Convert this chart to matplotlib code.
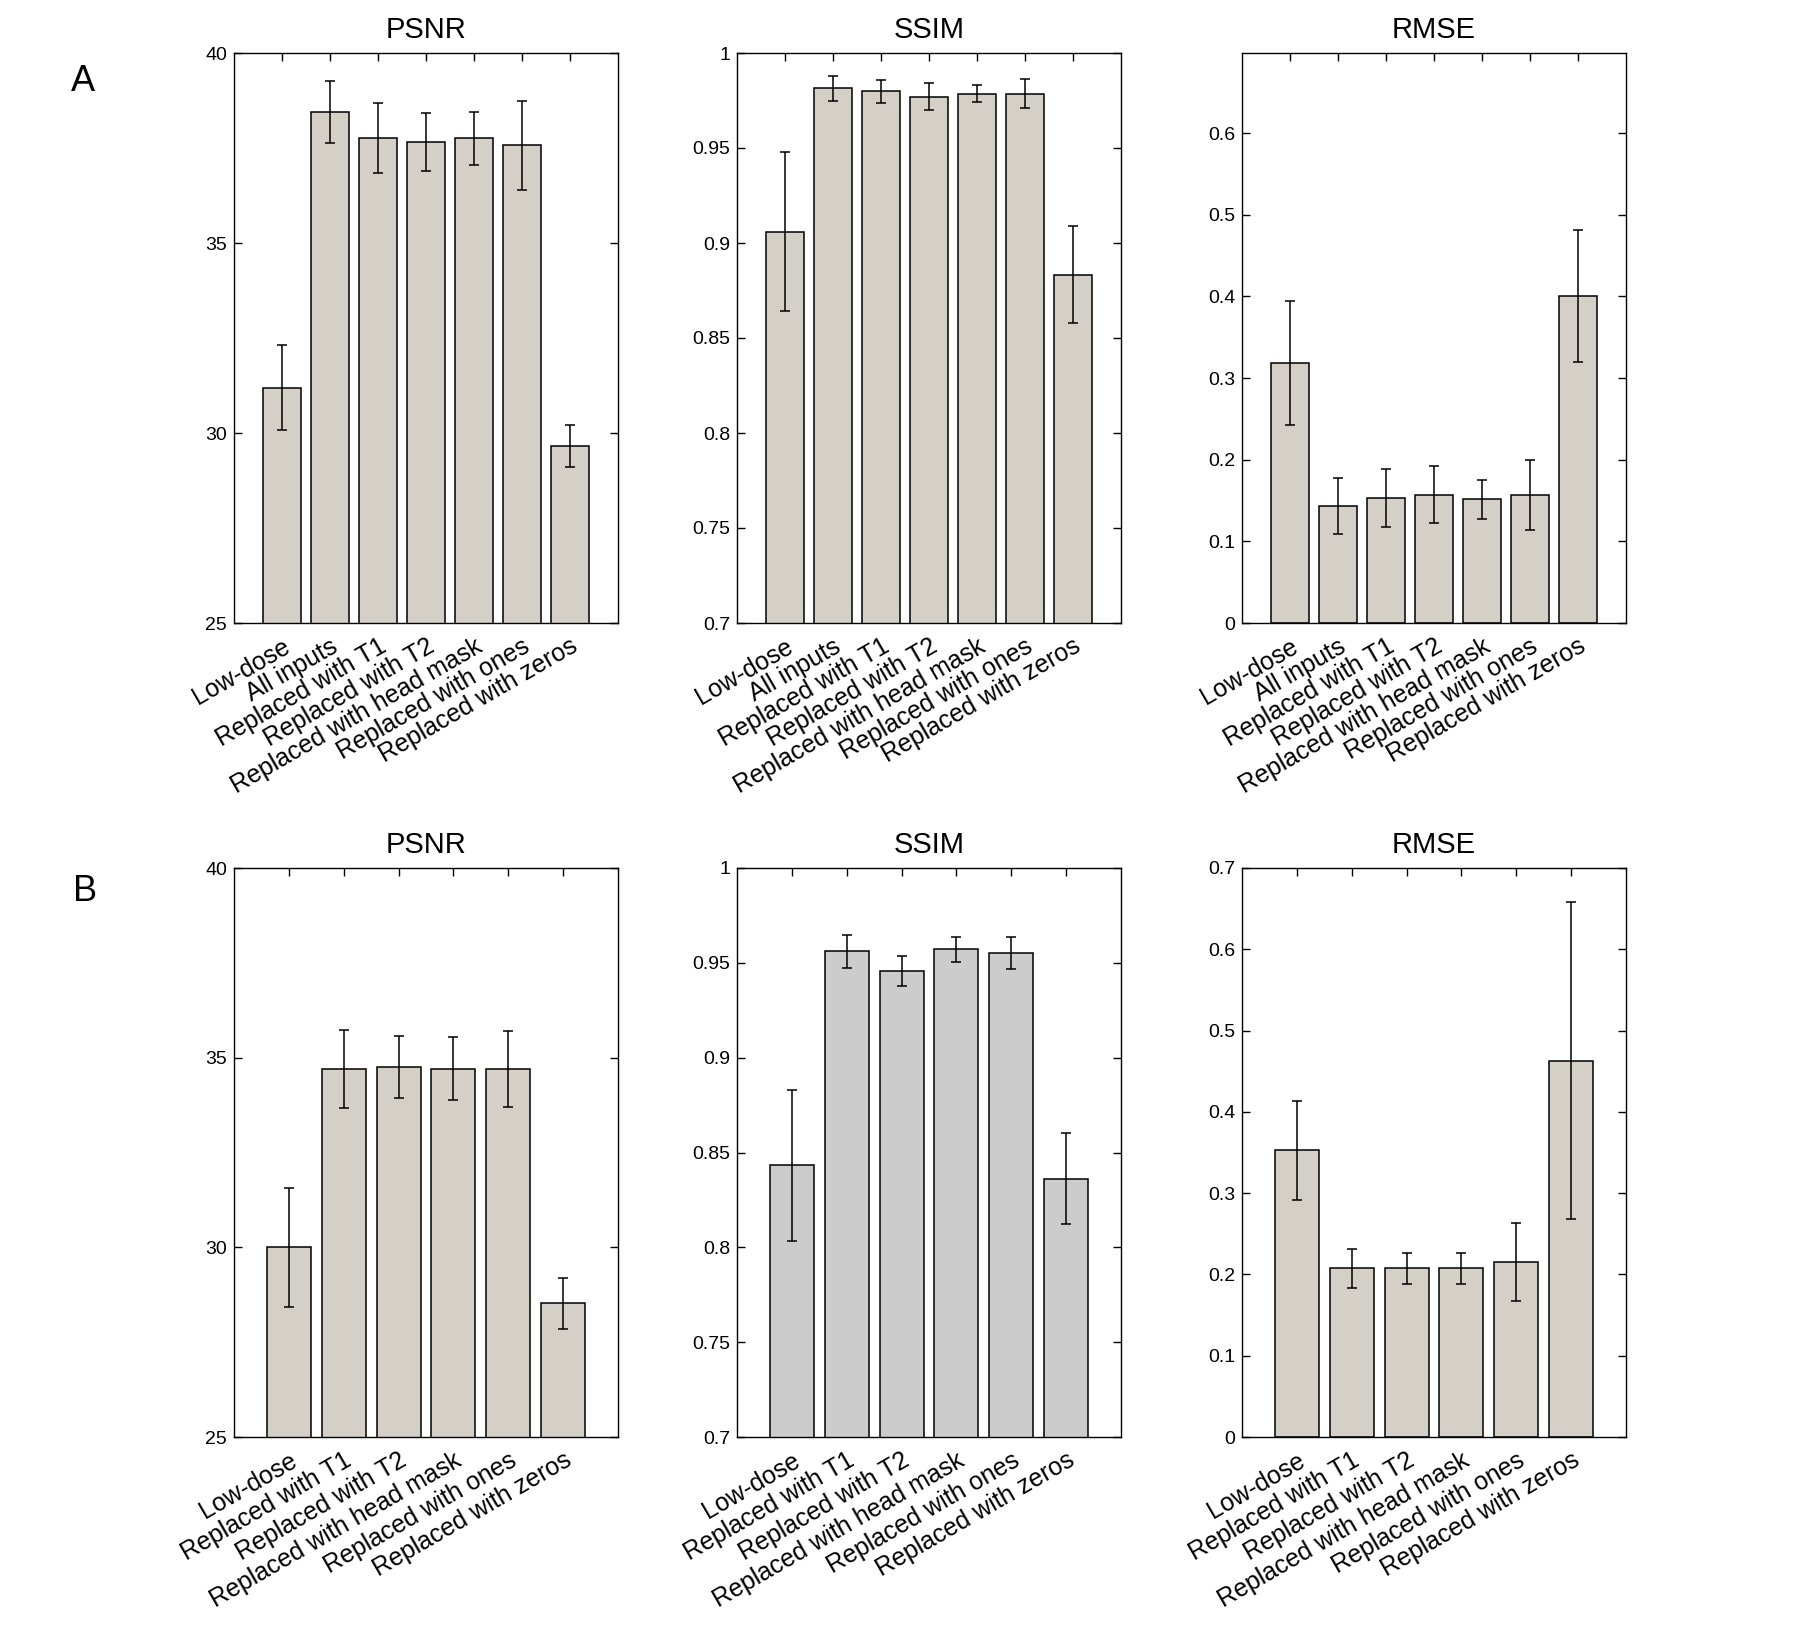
import numpy as np
import matplotlib
matplotlib.use("Agg")
import matplotlib.pyplot as plt
from matplotlib.ticker import FuncFormatter

plt.rcParams['font.family'] = ['Liberation Sans', 'DejaVu Sans']

# ---- data ----
labels_a = ["Low-dose", "All inputs", "Replaced with T1", "Replaced with T2",
            "Replaced with head mask", "Replaced with ones", "Replaced with zeros"]
labels_b = ["Low-dose", "Replaced with T1", "Replaced with T2",
            "Replaced with head mask", "Replaced with ones", "Replaced with zeros"]

psnr_a = [31.19, 38.45, 37.76, 37.66, 37.76, 37.57, 29.66]
psnr_a_err = [1.12, 0.82, 0.92, 0.77, 0.70, 1.18, 0.56]
ssim_a = [0.906, 0.9814, 0.9798, 0.9771, 0.9786, 0.9786, 0.8832]
ssim_a_err = [0.042, 0.0067, 0.006, 0.007, 0.0045, 0.0075, 0.0255]
rmse_a = [0.3186, 0.1432, 0.1530, 0.1571, 0.1514, 0.1571, 0.4002]
rmse_a_err = [0.076, 0.034, 0.0356, 0.0347, 0.0243, 0.043, 0.081]

psnr_b = [30.0, 34.71, 34.75, 34.71, 34.71, 28.52]
psnr_b_err = [1.56, 1.03, 0.81, 0.83, 1.0, 0.66]
ssim_b = [0.8432, 0.9561, 0.9457, 0.9572, 0.9552, 0.8361]
ssim_b_err = [0.040, 0.0088, 0.0079, 0.0066, 0.0083, 0.024]
rmse_b = [0.3525, 0.2074, 0.2074, 0.2074, 0.2156, 0.4627]
rmse_b_err = [0.061, 0.024, 0.019, 0.019, 0.048, 0.195]

W, H = 1793, 1639
fig = plt.figure(figsize=(W / 100, H / 100), dpi=100)

lefts = [234, 737, 1242]
width = 384
rows = [(53, 623), (868, 1437)]

def px_axes(left, top, bottom):
    return fig.add_axes([left / W, 1 - bottom / H, width / W, (bottom - top) / H])

fmt = FuncFormatter(lambda v, p: f"{v:g}")

def draw(ax, title, vals, errs, labels, ylim, yticks, color):
    x = np.arange(1, len(vals) + 1)
    ax.bar(x, vals, width=0.8, color=color, edgecolor='black', linewidth=1.1, zorder=2)
    ax.errorbar(x, vals, yerr=errs, fmt='none', ecolor='black', elinewidth=1.1,
                capsize=3.3, capthick=1.1, zorder=3)
    ax.set_xlim(0, len(vals) + 1)
    ax.set_ylim(*ylim)
    ax.set_yticks(yticks)
    ax.yaxis.set_major_formatter(fmt)
    ax.set_xticks(x)
    ax.set_xticklabels(labels, rotation=30, ha='right', va='top',
                       rotation_mode='anchor', fontsize=18)
    ax.tick_params(direction='in', top=True, right=True, length=6, width=1.0)
    ax.tick_params(axis='y', labelsize=14, pad=5)
    ax.tick_params(axis='x', pad=8)
    for s in ax.spines.values():
        s.set_linewidth(1.0)
    ax.set_title(title, fontsize=21, pad=11)

beige = '#D4D0C8'
grey = '#CCCCCC'

ssim_ticks = [0.7, 0.75, 0.8, 0.85, 0.9, 0.95, 1.0]
rmse_ticks = [0, 0.1, 0.2, 0.3, 0.4, 0.5, 0.6]

top, bot = rows[0]
draw(px_axes(lefts[0], top, bot), "PSNR", psnr_a, psnr_a_err, labels_a, (25, 40), [25, 30, 35, 40], beige)
draw(px_axes(lefts[1], top, bot), "SSIM", ssim_a, ssim_a_err, labels_a, (0.7, 1.0), ssim_ticks, beige)
draw(px_axes(lefts[2], top, bot), "RMSE", rmse_a, rmse_a_err, labels_a, (0, 0.698), rmse_ticks, beige)

top, bot = rows[1]
draw(px_axes(lefts[0], top, bot), "PSNR", psnr_b, psnr_b_err, labels_b, (25, 40), [25, 30, 35, 40], beige)
draw(px_axes(lefts[1], top, bot), "SSIM", ssim_b, ssim_b_err, labels_b, (0.7, 1.0), ssim_ticks, grey)
draw(px_axes(lefts[2], top, bot), "RMSE", rmse_b, rmse_b_err, labels_b, (0, 0.7), rmse_ticks + [0.7], beige)

fig.text(71 / W, 1 - 91 / H, "A", fontsize=26, ha='left', va='baseline')
fig.text(73 / W, 1 - 901 / H, "B", fontsize=26, ha='left', va='baseline')

fig.savefig("out.png", dpi=100)
